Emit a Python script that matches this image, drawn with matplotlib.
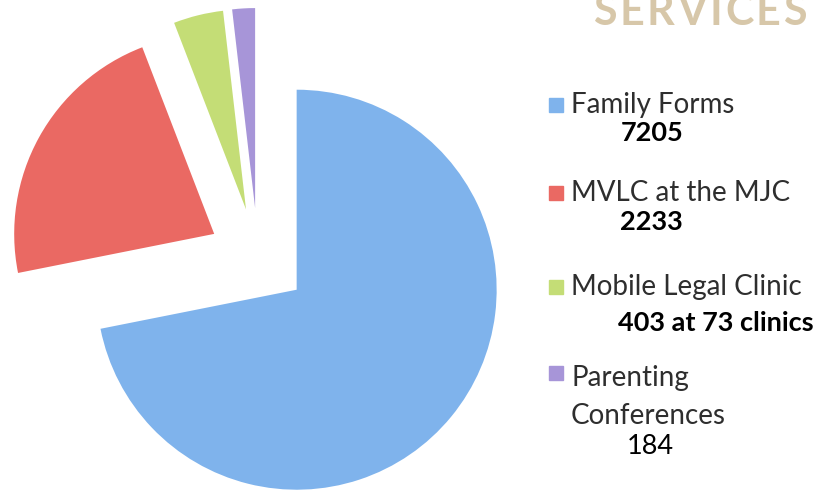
import matplotlib.pyplot as plt
from matplotlib.patches import Rectangle

# Services data
labels = ['Family Forms', 'MVLC at the MJC', 'Mobile Legal Clinic', 'Parenting\nConferences']
values = [7205, 2233, 403, 184]
value_text = ['7205', '2233', '403 at 73 clinics', '184']
value_bold = [True, True, True, False]
colors = ['#7fb3ec', '#ea6963', '#c4dd76', '#a795d8']
title = 'SERVICES'

W, H = 830, 493
fig = plt.figure(figsize=(W / 100, H / 100), dpi=100)

# pie: center at (258, 258) px, radius 200 px
cx, cy, r = 258, 258, 200
half = 1.5 * r
ax = fig.add_axes([(cx - half) / W, (H - cy - half) / H, 2 * half / W, 2 * half / H])
ax.pie(values, colors=colors, startangle=90, counterclock=False,
       explode=[0.25] * len(values), wedgeprops=dict(linewidth=0))
ax.set_xlim(-1.5, 1.5)
ax.set_ylim(-1.5, 1.5)
ax.set_aspect('equal')
ax.axis('off')

# title, letter-spaced and cut at the top (spans x 593..807 px)
renderer = fig.canvas.get_renderer()
widths = []
for ch in title:
    t = fig.text(0, 0, ch, fontsize=31, fontweight='bold', family='Lato')
    widths.append(t.get_window_extent(renderer).width)
    t.remove()
x0, x1 = 593, 807
gap = (x1 - x0 - sum(widths)) / (len(title) - 1)
x = x0
for ch, w in zip(title, widths):
    fig.text(x / W, 1 - 25 / H, ch, fontsize=31, fontweight='bold', family='Lato',
             color='#d7c7a9', ha='left', va='baseline')
    x += w + gap

# legend
label_y = [105, 193, 287, 397]
value_pos = [(621, 133), (620, 222), (618, 323), (627, 447)]
for i in range(len(labels)):
    y = label_y[i]
    sq_y = y if '\n' not in labels[i] else 373
    fig.patches.append(Rectangle((549 / W, 1 - (sq_y + 7) / H), 14 / W, 14 / H,
                                 transform=fig.transFigure, color=colors[i]))
    fig.text(571 / W, 1 - y / H, labels[i], fontsize=20, family='Lato',
             color='#2e2e2e', ha='left', va='center', linespacing=1.58)
    vx, vy = value_pos[i]
    fig.text(vx / W, 1 - vy / H, value_text[i], fontsize=19.5, family='Lato',
             fontweight='bold' if value_bold[i] else 'normal', color='black',
             ha='left', va='center')

fig.savefig('out.png', dpi=100)
